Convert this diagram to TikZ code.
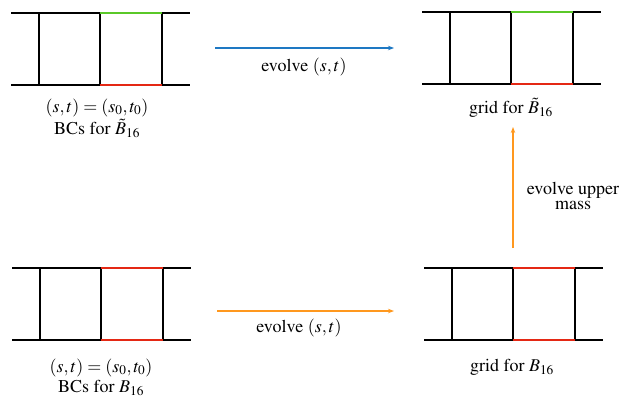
\documentclass[tikz,border=0pt]{standalone}
\usepackage[T1]{fontenc}
\usepackage{mathptmx}
\usetikzlibrary{arrows.meta}

\definecolor{bcgreen}{RGB}{90,200,40}
\definecolor{bcred}{RGB}{228,40,20}
\definecolor{evblue}{RGB}{30,120,195}
\definecolor{evorange}{RGB}{255,152,30}

% one ladder of the grid: shift, top colour, bottom colour
\newcommand{\ladder}[3]{%
  \begin{scope}[shift={(#1)}]
    \draw[rail] (0,0) -- (179,0) (0,72) -- (179,72);
    \draw[rail] (28,0) -- (28,72) (89,0) -- (89,72) (151,0) -- (151,72);
    \draw[rail,#2] (89,0) -- (151,0);
    \draw[rail,#3] (89,72) -- (151,72);
  \end{scope}}

\begin{document}
\begin{tikzpicture}[
  x=1pt,y=-1pt,
  rail/.style={line width=1.1pt},
  lbl/.style={font=\fontsize{18}{20}\selectfont,inner sep=0pt},
  arr/.style={-{Stealth[length=6pt,width=4.5pt]},line width=1.1pt}]

  \useasboundingbox (0,0) rectangle (621,405);

  % the four grids
  \ladder{11,13}{bcgreen}{bcred}
  \ladder{422,12}{bcgreen}{bcred}
  \ladder{12,268}{bcred}{bcred}
  \ladder{424,268}{bcred}{bcred}

  % labels under the grids
  \node[lbl,align=center,font=\fontsize{18}{22}\selectfont] (tl) at (97,118)
    {$(s,t)=(s_0,t_0)$\\BCs for $\tilde{B}_{16}$};
  \node[lbl] (tr) at (511,108) {grid for $\tilde{B}_{16}$};
  \node[lbl,align=center] (bl) at (101,377)
    {$(s,t)=(s_0,t_0)$\\BCs for $B_{16}$};
  \node[lbl] (br) at (512,367) {grid for $B_{16}$};

  % arrow ends
  \coordinate (topS) at (215,48);
  \coordinate (topE) at (394,48);
  \coordinate (botS) at (217,311);
  \coordinate (botE) at (394,311);
  \coordinate (upS)  at (513,248);
  \coordinate (upE)  at (513,127);

  % evolution steps
  \draw[arr,evblue] (topS) -- (topE);
  \node[lbl] (topL) at (304,67) {evolve $(s,t)$};
  \draw[arr,evorange] (botS) -- (botE);
  \node[lbl] (botL) at (299,328) {evolve $(s,t)$};
  \draw[arr,evorange] (upS) -- (upE);
  \node[lbl,align=center,font=\fontsize{18}{15}\selectfont] (upL) at (573,196)
    {evolve upper\\mass};
\end{tikzpicture}
\end{document}
